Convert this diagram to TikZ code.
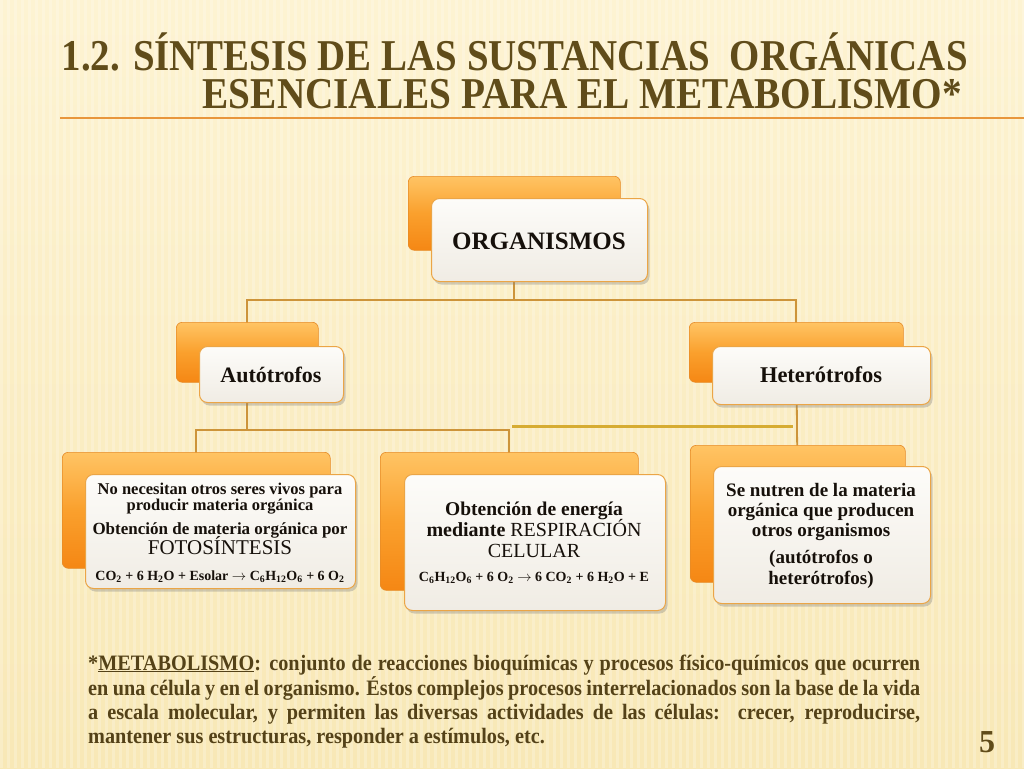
\documentclass[tikz,border=0pt]{standalone}
\usepackage{fontspec}
\setmainfont{Liberation Serif}
\newfontfamily\footfont[FakeStretch=0.92]{Liberation Serif}
\usetikzlibrary{shadows,calc}
\pgfdeclarelayer{bg}
\pgfdeclarelayer{lines}
\pgfsetlayers{bg,lines,main}
\definecolor{bgT}{RGB}{253,243,210}
\definecolor{bgB}{RGB}{248,232,182}
\definecolor{titleC}{RGB}{96,76,26}
\definecolor{connC}{RGB}{205,148,58}
\definecolor{goldC}{RGB}{214,172,50}
\definecolor{orT}{RGB}{255,196,100}
\definecolor{orM}{RGB}{250,160,45}
\definecolor{orB}{RGB}{245,135,20}
\definecolor{orD}{RGB}{230,140,40}
\definecolor{wT}{RGB}{253,252,249}
\definecolor{wB}{RGB}{240,236,228}
\definecolor{bordC}{RGB}{235,165,70}
\definecolor{txtC}{RGB}{22,16,10}
\definecolor{footC}{RGB}{84,66,24}
\definecolor{ruleC}{RGB}{232,150,60}
\begin{document}
\begin{tikzpicture}[x=1pt,y=-1pt,
  backbox/.style={rectangle, rounded corners=6pt, top color=orT, bottom color=orB, middle color=orM, draw=orD, line width=0.6pt, inner sep=0pt, anchor=north west},
  frontbox/.style={rectangle, rounded corners=8pt, top color=wT, bottom color=wB, draw=bordC, line width=1pt, drop shadow={opacity=0.35,shadow xshift=2pt,shadow yshift=-3pt}, inner sep=0pt, anchor=north west},
  conn/.style={draw=connC, line width=1.8pt},
  txt/.style={text=txtC, inner sep=0pt, anchor=base},
  foot/.style={text=footC, inner sep=0pt, anchor=base west, font=\footfont\fontsize{22}{26}\selectfont\bfseries},
  titletxt/.style={text=titleC, inner sep=0pt, anchor=base east, font=\fontsize{44}{50}\selectfont\bfseries}
]
\useasboundingbox (0,0) rectangle (1024,768);
\begin{pgfonlayer}{bg}
  \shade[top color=bgT, bottom color=bgB] (0,0) rectangle (1024,768);
  \foreach \i in {0,7,...,1022} \fill[white, opacity=0.22] (\i,0) rectangle ++(3,768);
\end{pgfonlayer}

% title
\node[titletxt] (t1) at (968,70) {\resizebox{906pt}{\height}{1.2. SÍNTESIS DE LAS SUSTANCIAS\ \ ORGÁNICAS}};
\node[titletxt] (t2) at (962,108) {\resizebox{759pt}{\height}{ESENCIALES PARA EL METABOLISMO*}};
\coordinate (r1) at (60,118);
\coordinate (r2) at (1024,118);
\draw[ruleC, line width=1.5pt] (r1) -- (r2);

% back boxes
\node[backbox, minimum width=212pt, minimum height=74pt] (orgback) at (408,176) {};
\node[backbox, minimum width=142pt, minimum height=60pt] (autback) at (176,322) {};
\node[backbox, minimum width=214pt, minimum height=60pt] (hetback) at (689,322) {};
\node[backbox, minimum width=268pt, minimum height=116pt] (b1back) at (62,452) {};
\node[backbox, minimum width=258pt, minimum height=138pt] (b2back) at (380,452) {};
\node[backbox, minimum width=215pt, minimum height=137pt] (b3back) at (690,445) {};

% front boxes
\node[frontbox, minimum width=216pt, minimum height=83pt] (org) at (431,198) {};
\node[frontbox, minimum width=144pt, minimum height=56pt] (aut) at (199,346) {};
\node[frontbox, minimum width=218pt, minimum height=58pt] (het) at (712,346) {};
\node[frontbox, minimum width=270pt, minimum height=114pt] (b1) at (85,474) {};
\node[frontbox, minimum width=261pt, minimum height=136pt] (b2) at (404,474) {};
\node[frontbox, minimum width=217pt, minimum height=137pt] (b3) at (713,466) {};

% connectors
\coordinate (j1) at (515,300);
\coordinate (j2) at (247,430);
\coordinate (g) at (600,426);
\begin{pgfonlayer}{lines}
  \draw[conn] (orgback.center) -- (orgback.center |- j1);
  \draw[conn] (autback.center) |- (j1) -| (hetback.center);
  \draw[conn] (autback.center) -- (j2);
  \draw[conn] (b1back.center) |- (j2) -| (b2back.center);
  \draw[conn] (hetback.center) -- (b3back.center);
  \draw[goldC, line width=3pt] ($(b2back.center |- g)+(3,0)$) -- ($(hetback.center |- g)+(-3,0)$);
\end{pgfonlayer}

% texts
\node[txt, font=\fontsize{25}{29}\selectfont\bfseries] (orgT) at (539,249) {ORGANISMOS};
\node[txt, font=\fontsize{22}{26}\selectfont\bfseries] (autT) at (271,382) {Autótrofos};
\node[txt, font=\fontsize{22.5}{26}\selectfont\bfseries] (hetT) at (821,382) {Heterótrofos};

\node[txt, font=\fontsize{16.5}{19}\selectfont\bfseries] (b1l1) at (220,494) {No necesitan otros seres vivos para};
\node[txt, font=\fontsize{16.5}{19}\selectfont\bfseries] (b1l2) at (220,510) {producir materia orgánica};
\node[txt, font=\fontsize{17}{20}\selectfont\bfseries] (b1l3) at (220,534) {Obtención de materia orgánica por};
\node[txt, font=\fontsize{21}{24}\selectfont] (b1l4) at (220,554) {FOTOSÍNTESIS};
\node[txt, font=\fontsize{14}{16}\selectfont\bfseries] (b1l5) at (220,580) {CO\textsubscript{2} + 6 H\textsubscript{2}O + Esolar $\rightarrow$ C\textsubscript{6}H\textsubscript{12}O\textsubscript{6} + 6 O\textsubscript{2}};

\node[txt, font=\fontsize{19.5}{23}\selectfont\bfseries] (b2l1) at (534,515) {Obtención de energía};
\node[txt, font=\fontsize{20}{23}\selectfont] (b2l2) at (534,536) {\textbf{mediante} RESPIRACIÓN};
\node[txt, font=\fontsize{20}{23}\selectfont] (b2l3) at (534,557) {CELULAR};
\node[txt, font=\fontsize{14}{16}\selectfont\bfseries] (b2l4) at (534,581) {C\textsubscript{6}H\textsubscript{12}O\textsubscript{6} + 6 O\textsubscript{2} $\rightarrow$ 6 CO\textsubscript{2} + 6 H\textsubscript{2}O + E};

\node[txt, font=\fontsize{19}{21}\selectfont\bfseries] (b3l1) at (821,496) {Se nutren de la materia};
\node[txt, font=\fontsize{19}{21}\selectfont\bfseries] (b3l2) at (821,516) {orgánica que producen};
\node[txt, font=\fontsize{19}{21}\selectfont\bfseries] (b3l3) at (821,536) {otros organismos};
\node[txt, font=\fontsize{19}{21}\selectfont\bfseries] (b3l4) at (821,563) {(autótrofos o};
\node[txt, font=\fontsize{19}{21}\selectfont\bfseries] (b3l5) at (821,584) {heterótrofos)};

% footer
\node[foot] (f1) at (88,670) {\makebox[832pt][s]{*\underline{METABOLISMO}: conjunto de reacciones bioquímicas y procesos físico-químicos que ocurren}};
\node[foot] (f2) at (88,695) {\makebox[832pt][s]{en una célula y en el organismo. Éstos complejos procesos interrelacionados son la base de la vida}};
\node[foot] (f3) at (88,719) {\makebox[832pt][s]{a escala molecular, y permiten las diversas actividades de las células:\ \ crecer, reproducirse,}};
\node[foot] (f4) at (88,743) {mantener sus estructuras, responder a estímulos, etc.};

\node[text=titleC, inner sep=0pt, anchor=base, font=\fontsize{32}{36}\selectfont\bfseries] (pg) at (987,752) {5};
\end{tikzpicture}
\end{document}
